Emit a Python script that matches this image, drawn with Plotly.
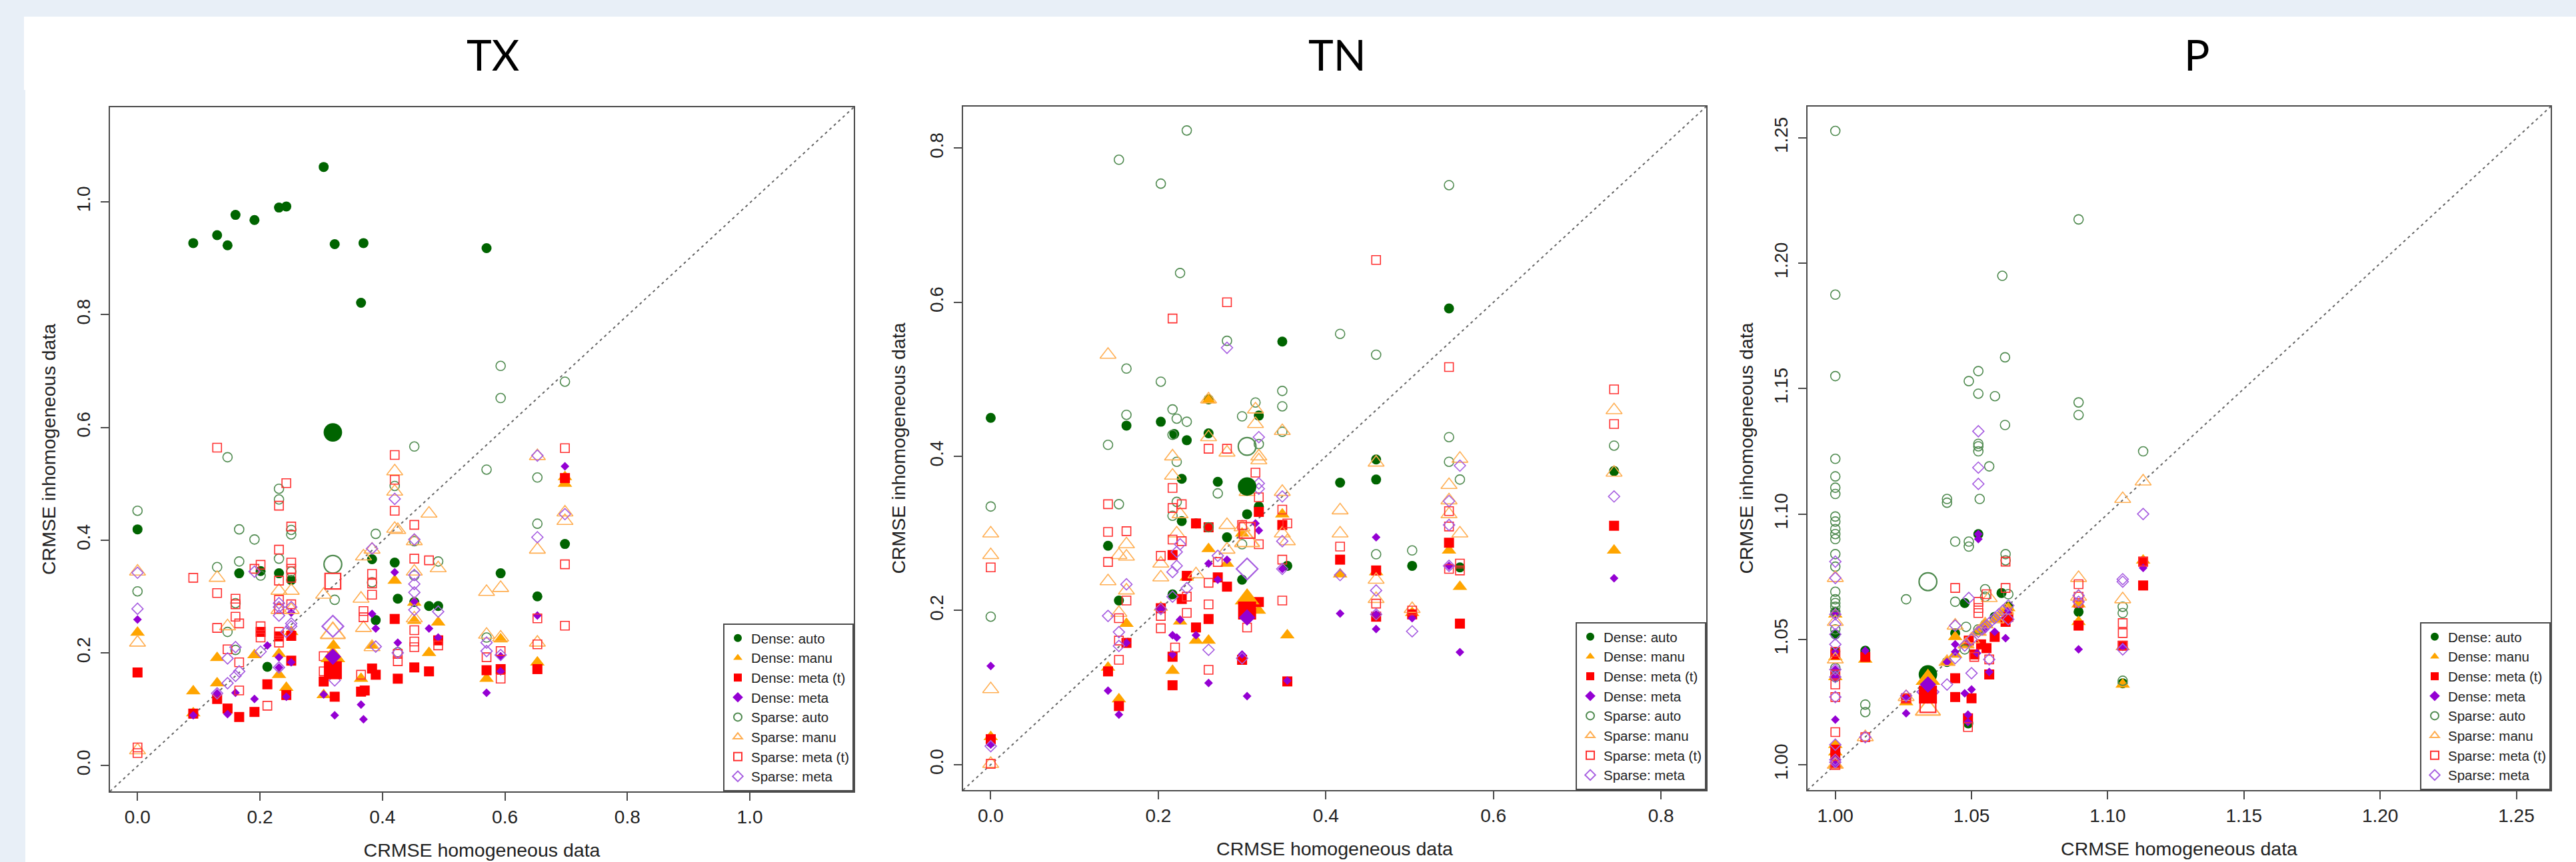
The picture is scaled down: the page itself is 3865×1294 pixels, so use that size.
import plotly.graph_objects as go

# ---------- series names ----------
SERIES = ["Dense: auto", "Dense: manu", "Dense: meta (t)", "Dense: meta",
          "Sparse: auto", "Sparse: manu", "Sparse: meta (t)", "Sparse: meta"]
XTITLE = "CRMSE homogeneous data"
YTITLE = "CRMSE inhomogeneous data"

# ---------- TX ----------
TX_TICKS = [0.0, 0.2, 0.4, 0.6, 0.8, 1.0]
TX_TICKTEXT = ["0.0", "0.2", "0.4", "0.6", "0.8", "1.0"]
TX_DA_X = [.091,.13,.147,.16,.191,.231,.243,.304,.322,.369,.57,.365,0,.166,.201,.231,.251,.383,.42,.425,.452,.476,.491,.389,.212,.593,.653,.698]
TX_DA_Y = [.927,.941,.923,.977,.968,.99,.992,1.062,.925,.927,.918,.821,.419,.341,.345,.341,.329,.366,.36,.296,.29,.283,.283,.258,.175,.341,.3,.393]
TX_DM_X = [0,.091,.13,.13,.091,.191,.231,.231,.243,.251,.32,.304,.365,.383,.42,.452,.476,.491,.57,.593,.653,.698,.698,.452]
TX_DM_Y = [.236,.132,.191,.146,.093,.196,.198,.161,.138,.237,.213,.125,.154,.213,.328,.257,.2,.254,.154,.224,.183,.5,.512,.289]
TX_DT_X = [0,.091,.13,.147,.166,.191,.201,.212,.231,.243,.251,.251,.304,.322,.365,.371,.383,.389,.42,.425,.452,.476,.491,.57,.593,.653,.698]
TX_DT_Y = [.165,.092,.118,.101,.086,.095,.237,.144,.229,.125,.23,.186,.149,.122,.131,.133,.172,.161,.26,.154,.174,.167,.222,.169,.171,.171,.51]
TX_DE_X = [0,.091,.13,.147,.16,.191,.212,.231,.231,.243,.251,.251,.304,.322,.365,.369,.383,.389,.42,.425,.452,.476,.491,.57,.593,.593,.653,.698]
TX_DE_Y = [.259,.089,.128,.091,.129,.118,.213,.192,.174,.122,.271,.183,.126,.089,.108,.082,.269,.243,.343,.218,.291,.243,.227,.129,.194,.167,.266,.531]
TX_SA_X = [0,0,.13,.147,.147,.16,.16,.166,.166,.191,.201,.231,.231,.231,.251,.251,.251,.322,.383,.389,.42,.452,.452,.452,.491,.57,.57,.593,.593,.653,.653,.698,.425]
TX_SA_Y = [.452,.309,.352,.547,.237,.205,.288,.419,.362,.401,.337,.491,.472,.367,.418,.41,.344,.294,.325,.411,.496,.566,.398,.337,.362,.525,.227,.709,.652,.511,.429,.681,.201]
TX_SM_X = [0,0,0,.13,.147,.231,.251,.304,.365,.369,.369,.383,.42,.42,.42,.425,.452,.452,.452,.476,.491,.57,.57,.593,.593,.653,.653,.653,.698,.698,.231,.251,.383]
TX_SM_Y = [.344,.218,.027,.333,.247,.31,.31,.303,.296,.371,.244,.383,.522,.486,.42,.418,.398,.344,.261,.447,.35,.308,.232,.315,.227,.549,.383,.218,.449,.434,.276,.276,.21]
TX_ST_X = [0,0,.091,.13,.13,.13,.147,.16,.16,.16,.166,.166,.166,.191,.201,.201,.201,.212,.231,.231,.231,.231,.231,.231,.231,.243,.251,.251,.251,.251,.251,.304,.304,.365,.383,.383,.383,.369,.369,.42,.42,.42,.425,.425,.452,.452,.452,.452,.452,.476,.491,.57,.593,.593,.653,.653,.698,.698,.698]
TX_ST_Y = [.032,.022,.333,.564,.306,.244,.206,.296,.286,.264,.252,.183,.133,.349,.356,.247,.227,.106,.461,.383,.328,.294,.278,.237,.218,.501,.424,.36,.349,.333,.286,.194,.167,.161,.34,.323,.303,.274,.263,.551,.507,.452,.198,.185,.427,.367,.24,.22,.21,.364,.213,.192,.203,.154,.261,.215,.563,.357,.248]
TX_SE_X = [0,0,.13,.147,.147,.16,.16,.166,.191,.201,.231,.231,.231,.231,.243,.251,.251,.251,.322,.383,.389,.42,.425,.452,.452,.452,.452,.452,.491,.57,.57,.593,.653,.653,.698]
TX_SE_Y = [.342,.278,.128,.19,.146,.21,.159,.167,.344,.202,.288,.281,.266,.174,.237,.281,.252,.247,.151,.385,.211,.473,.2,.401,.338,.322,.307,.276,.273,.218,.203,.196,.55,.405,.446]
TX_MEAN_X = .319
TX_MEAN_Y = [.591, .193, .169, .193, .357, .235, .327, .247]

# ---------- TN ----------
TN_TICKS = [0.0, 0.2, 0.4, 0.6, 0.8]
TN_TICKTEXT = ["0.0", "0.2", "0.4", "0.6", "0.8"]
TN_DA_X = [0,.14,.153,.162,.203,.217,.219,.228,.228,.234,.245,.26,.26,.271,.282,.3,.306,.32,.32,.348,.354,.417,.46,.46,.503,.547,.56,.744,0]
TN_DA_Y = [.45,.284,.213,.44,.445,.221,.429,.371,.316,.421,.313,.474,.43,.367,.295,.24,.325,.453,.335,.549,.258,.366,.396,.37,.258,.592,.256,.381,.029]
TN_DM_X = [0,.14,.153,.162,.203,.217,.226,.234,.245,.26,.26,.282,.3,.32,.348,.354,.417,.46,.503,.547,.56,.744,.26]
TN_DM_Y = [.036,.126,.085,.183,.204,.122,.186,.243,.161,.28,.161,.261,.3,.2,.325,.168,.247,.25,.197,.278,.231,.278,.473]
TN_DT_X = [0,.14,.153,.162,.203,.217,.217,.217,.228,.234,.245,.26,.26,.271,.282,.3,.32,.32,.348,.354,.417,.46,.46,.503,.547,.56,.744,.245]
TN_DT_Y = [.033,.121,.076,.158,.203,.14,.103,.272,.215,.245,.178,.189,.308,.243,.231,.136,.328,.211,.311,.108,.266,.192,.252,.195,.288,.183,.31,.313]
TN_DE_X = [0,0,.14,.153,.162,.203,.217,.217,.222,.226,.245,.26,.26,.271,.282,.3,.306,.316,.32,.348,.354,.417,.46,.46,.46,.503,.547,.56,.744]
TN_DE_Y = [.128,.026,.096,.065,.158,.202,.143,.168,.165,.188,.168,.261,.106,.24,.266,.143,.089,.313,.304,.254,.109,.196,.295,.195,.176,.19,.258,.146,.242]
TN_SA_X = [0,0,.14,.153,.153,.162,.162,.203,.203,.217,.217,.217,.222,.222,.222,.226,.234,.234,.26,.271,.282,.3,.3,.316,.32,.348,.348,.348,.417,.46,.46,.503,.547,.547,.547,.56,.744]
TN_SA_Y = [.335,.192,.415,.338,.785,.514,.454,.754,.497,.461,.428,.323,.449,.341,.393,.638,.823,.445,.308,.352,.55,.452,.286,.47,.416,.485,.465,.432,.559,.532,.273,.278,.752,.425,.393,.37,.414]
TN_SM_X = [0,0,0,0,.14,.14,.153,.153,.162,.162,.162,.203,.203,.217,.217,.222,.226,.245,.26,.26,.282,.282,.282,.3,.306,.316,.316,.32,.32,.348,.348,.348,.354,.417,.417,.46,.46,.46,.503,.547,.547,.547,.56,.56,.744,.744]
TN_SM_Y = [.3,.272,.098,.001,.532,.238,.197,.272,.286,.27,.226,.261,.243,.4,.375,.3,.325,.247,.425,.474,.405,.311,.279,.308,.354,.461,.442,.4,.395,.433,.354,.3,.29,.33,.3,.392,.24,.215,.202,.363,.343,.325,.397,.3,.46,.379]
TN_ST_X = [0,0,.14,.14,.14,.153,.153,.153,.162,.162,.203,.203,.203,.217,.217,.217,.217,.22,.228,.228,.234,.234,.26,.26,.26,.26,.271,.282,.282,.3,.316,.32,.32,.348,.348,.348,.354,.417,.46,.46,.547,.547,.547,.547,.56,.56,.744,.744,.306,.503]
TN_ST_Y = [.256,.001,.338,.302,.263,.19,.161,.136,.303,.213,.271,.193,.177,.579,.359,.333,.292,.152,.338,.29,.218,.197,.41,.236,.208,.123,.263,.6,.41,.311,.379,.347,.286,.331,.266,.213,.313,.283,.655,.209,.516,.329,.309,.254,.261,.252,.487,.442,.178,.2]
TN_SE_X = [0,.14,.153,.153,.162,.203,.217,.217,.222,.222,.226,.234,.26,.271,.282,.3,.32,.32,.32,.348,.348,.348,.417,.46,.46,.503,.547,.547,.547,.56,.744]
TN_SE_Y = [.024,.193,.172,.154,.234,.202,.218,.25,.276,.258,.286,.229,.149,.271,.541,.138,.425,.365,.358,.348,.29,.254,.246,.226,.195,.173,.342,.311,.258,.388,.348]
TN_MEAN_X = .306
TN_MEAN_Y = [.361, .215, .2, .191, .413, .29, .304, .254]

# ---------- P ----------
P_TICKS = [1.00, 1.05, 1.10, 1.15, 1.20, 1.25]
P_TICKTEXT = ["1.00", "1.05", "1.10", "1.15", "1.20", "1.25"]
P_DA_X = [1,1,1,1,1,1,1.011,1.026,1.0475,1.044,1.061,1.0525,1.0488,1.0585,1.0893,1.1055,1.113,1.055,1.041,1.0635]
P_DA_Y = [1.061,1.052,1.045,1.035,1.005,1.001,1.0455,1.0265,1.0645,1.0525,1.0685,1.092,1.0165,1.059,1.061,1.0325,1.081,1.056,1.041,1.063]
P_DM_X = [1,1,1,1,1,1,1.011,1.026,1.041,1.044,1.044,1.048,1.0525,1.055,1.059,1.061,1.0635,1.0893,1.0893,1.1055,1.113,1.1055]
P_DM_Y = [1.008,1.005,1.0,1.043,1.035,1.06,1.042,1.025,1.041,1.044,1.051,1.048,1.053,1.056,1.058,1.0605,1.0625,1.057,1.064,1.032,1.0815,1.047]
P_DT_X = [1,1,1,1,1,1.011,1.026,1.044,1.044,1.05,1.0487,1.051,1.0535,1.0555,1.0565,1.0585,1.0625,1.0635,1.0893,1.1055,1.113,1.113,1.049]
P_DT_Y = [1.0,1.003,1.006,1.036,1.044,1.043,1.0265,1.0345,1.027,1.0265,1.0185,1.044,1.048,1.0465,1.036,1.051,1.057,1.059,1.0555,1.0475,1.0715,1.081,1.0495]
P_DE_X = [1,1,1,1,1,1,1,1.011,1.026,1.026,1.041,1.044,1.044,1.0475,1.0487,1.0487,1.05,1.052,1.0525,1.0525,1.0565,1.0585,1.0625,1.0893,1.1055,1.113,1.0635,1.055]
P_DE_Y = [1.0,1.002,1.018,1.035,1.038,1.045,1.06,1.0455,1.0205,1.0265,1.041,1.048,1.045,1.0285,1.02,1.017,1.03,1.0445,1.09,1.092,1.037,1.053,1.0505,1.046,1.047,1.0785,1.0615,1.054]
P_SA_X = [1,1,1,1,1,1,1,1,1,1,1,1,1,1,1,1,1,1,1,1,1,1,1.011,1.011,1.026,1.041,1.041,1.044,1.044,1.049,1.049,1.049,1.0525,1.0525,1.0525,1.0525,1.0525,1.053,1.0565,1.055,1.055,1.0586,1.0613,1.0623,1.0623,1.0625,1.0625,1.0635,1.0893,1.0893,1.0893,1.1055,1.1055,1.1055,1.113,1.048,1.0525,1.0475]
P_SA_Y = [1.2528,1.1875,1.155,1.122,1.115,1.1105,1.108,1.099,1.097,1.094,1.092,1.09,1.084,1.079,1.069,1.066,1.0645,1.063,1.061,1.054,1.0386,1.035,1.024,1.021,1.066,1.106,1.1045,1.089,1.065,1.153,1.089,1.087,1.157,1.148,1.128,1.127,1.125,1.106,1.119,1.07,1.067,1.147,1.195,1.1625,1.1355,1.084,1.0815,1.068,1.2175,1.1445,1.1395,1.063,1.0605,1.0335,1.125,1.055,1.054,1.046]
P_SM_X = [1,1,1,1,1.011,1.026,1.0565,1.0893,1.0893,1.1055,1.1055,1.113,1.041,1.044,1.048,1.0525,1.055,1.059,1.0625,1.05]
P_SM_Y = [1.0745,1.057,1.042,1.0,1.011,1.027,1.0665,1.0745,1.067,1.066,1.106,1.113,1.041,1.0555,1.048,1.053,1.056,1.058,1.0615,1.05]
P_ST_X = [1,1,1,1,1,1,1.011,1.026,1.044,1.0487,1.0525,1.0525,1.0525,1.051,1.0565,1.0555,1.0625,1.0625,1.0893,1.0893,1.0893,1.1055,1.1055,1.1055,1.113]
P_ST_Y = [1.0,1.013,1.027,1.032,1.036,1.045,1.011,1.0265,1.0705,1.015,1.065,1.0625,1.0605,1.043,1.042,1.068,1.081,1.0705,1.072,1.067,1.0645,1.0565,1.0525,1.0475,1.081]
P_SE_X = [1,1,1,1,1,1,1,1,1,1,1,1,1.011,1.026,1.041,1.044,1.044,1.049,1.05,1.0525,1.0525,1.0525,1.0565,1.0893,1.0893,1.1055,1.1055,1.1055,1.113,1.0475,1.05,1.0525,1.054,1.0555,1.057,1.0585,1.06,1.0615,1.0635,1.0635]
P_SE_Y = [1.081,1.0745,1.06,1.056,1.052,1.048,1.038,1.035,1.027,1.008,1.002,1.001,1.011,1.0275,1.032,1.0555,1.0425,1.0665,1.0365,1.133,1.1185,1.112,1.042,1.0675,1.065,1.074,1.073,1.046,1.1,1.0475,1.05,1.053,1.054,1.0555,1.057,1.0585,1.06,1.0615,1.0635,1.058]
P_MEAN_X = 1.034
P_MEAN_Y = [1.036, 1.034, 1.028, 1.032, 1.073, 1.022, 1.024, 1.029]

# ---------- layout constants ----------
W, H = 3865, 1294
BG = "#E8EFF7"
FRAME = "#4A4A4A"
INK = "#222222"
STYLES = [
    dict(symbol="circle", color="#006400", size=15),
    dict(symbol="triangle-up", color="#FFA500", size=19),
    dict(symbol="square", color="#FF0000", size=15),
    dict(symbol="diamond", color="#9400D3", size=10),
    dict(symbol="circle-open", color="#4F8A4F", size=14),
    dict(symbol="triangle-up-open", color="#FFAE52", size=21),
    dict(symbol="square-open", color="#FF3030", size=13),
    dict(symbol="diamond-open", color="#A65CE0", size=13),
]
BIG = [1.85, 1.7, 1.8, 1.9, 1.9, 1.55, 1.8, 1.9]
PANELS = [
    dict(name="TX", box=(165, 1281, 161, 1188), xr=(-0.045, 1.1697), yr=(-0.046, 1.168), ticks=TX_TICKS, text=TX_TICKTEXT,
         title_x=739, ystand=18, mx=TX_MEAN_X, my=TX_MEAN_Y,
         data=[(TX_DA_X, TX_DA_Y), (TX_DM_X, TX_DM_Y), (TX_DT_X, TX_DT_Y), (TX_DE_X, TX_DE_Y),
               (TX_SA_X, TX_SA_Y), (TX_SM_X, TX_SM_Y), (TX_ST_X, TX_ST_Y), (TX_SE_X, TX_SE_Y)]),
    dict(name="TN", box=(1445, 2560, 160, 1186), xr=(-0.033, 0.854), yr=(-0.033, 0.854), ticks=TN_TICKS, text=TN_TICKTEXT,
         title_x=2007, ystand=23, mx=TN_MEAN_X, my=TN_MEAN_Y,
         data=[(TN_DA_X, TN_DA_Y), (TN_DM_X, TN_DM_Y), (TN_DT_X, TN_DT_Y), (TN_DE_X, TN_DE_Y),
               (TN_SA_X, TN_SA_Y), (TN_SM_X, TN_SM_Y), (TN_ST_X, TN_ST_Y), (TN_SE_X, TN_SE_Y)]),
    dict(name="P", box=(2712, 3827, 160, 1186), xr=(0.9898, 1.2626), yr=(0.9899, 1.2625), ticks=P_TICKS, text=P_TICKTEXT,
         title_x=3296, ystand=18, mx=P_MEAN_X, my=P_MEAN_Y,
         data=[(P_DA_X, P_DA_Y), (P_DM_X, P_DM_Y), (P_DT_X, P_DT_Y), (P_DE_X, P_DE_Y),
               (P_SA_X, P_SA_Y), (P_SM_X, P_SM_Y), (P_ST_X, P_ST_Y), (P_SE_X, P_SE_Y)]),
]

fig = go.Figure()
layout = dict(
    width=W, height=H, margin=dict(l=0, r=0, t=0, b=0), autosize=False,
    paper_bgcolor=BG, plot_bgcolor="white", font=dict(family="Liberation Sans", color=INK),
    shapes=[
        dict(type="rect", xref="paper", yref="paper", x0=36 / W, x1=1, y0=1 - 135 / H, y1=1 - 25 / H,
             fillcolor="white", line_width=0, layer="below"),
        dict(type="rect", xref="paper", yref="paper", x0=38 / W, x1=1, y0=0, y1=1 - 135 / H,
             fillcolor="white", line_width=0, layer="below"),
    ],
    annotations=[],
)

for i, p in enumerate(PANELS):
    n = "" if i == 0 else str(i + 1)
    xa, ya = "x" + n, "y" + n
    l, r, t, b = p["box"]
    legend_id = "legend" + n
    # diagonal reference line, corner to corner of the axes
    fig.add_trace(go.Scatter(x=p["xr"], y=p["yr"], mode="lines", xaxis=xa, yaxis=ya, showlegend=False, hoverinfo="skip",
                             line=dict(color="#666666", width=2, dash="4px,5px")))
    # ordinary points
    for s, (x, y), st in zip(SERIES, p["data"], STYLES):
        fig.add_trace(go.Scatter(x=x, y=y, mode="markers", name=s, xaxis=xa, yaxis=ya, legend=legend_id, showlegend=True,
                                 marker=dict(symbol=st["symbol"], color=st["color"], size=st["size"],
                                             line=dict(color=st["color"], width=1.6 if "open" in st["symbol"] else 0))))
    # overall means: bigger markers, sparse first so the filled ones stay visible
    for j in [4, 5, 6, 7, 0, 1, 2, 3]:
        st = STYLES[j]
        fig.add_trace(go.Scatter(x=[p["mx"]], y=[p["my"][j]], mode="markers", xaxis=xa, yaxis=ya, showlegend=False,
                                 marker=dict(symbol=st["symbol"], color=st["color"], size=st["size"] * BIG[j],
                                             line=dict(color=st["color"], width=2.2 if "open" in st["symbol"] else 0))))
    common = dict(showgrid=False, zeroline=False, showline=True, mirror=True, linecolor=FRAME, linewidth=2,
                  ticks="outside", ticklen=12, tickwidth=2, tickcolor=FRAME, tickfont=dict(size=28, color=INK),
                  tickvals=p["ticks"], ticktext=p["text"])
    layout["xaxis" + n] = dict(common, domain=[l / W, r / W], range=list(p["xr"]), anchor=ya,
                               title=dict(text=XTITLE, font=dict(size=28.5, color=INK), standoff=25))
    layout["yaxis" + n] = dict(common, domain=[1 - b / H, 1 - t / H], range=list(p["yr"]), anchor=xa, tickangle=-90,
                               ticklabelstandoff=5,
                               title=dict(text=YTITLE, font=dict(size=28.5, color=INK), standoff=p["ystand"]))
    layout[legend_id] = dict(x=r / W, y=1 - b / H, xanchor="right", yanchor="bottom", xref="paper", yref="paper",
                             bgcolor="white", bordercolor=FRAME, borderwidth=2, itemsizing="constant",
                             font=dict(size=20.5, color=INK), entrywidth=170, entrywidthmode="pixels",
                             tracegroupgap=0, itemclick=False, itemdoubleclick=False)
    layout["annotations"].append(dict(text=p["name"], x=p["title_x"] / W, y=1 - 81 / H, xref="paper", yref="paper",
                                      showarrow=False, xanchor="center", yanchor="middle",
                                      font=dict(family="Lato", size=64, color="black")))

fig.update_layout(**layout)
fig.write_html("out.html", config={"displayModeBar": False}, post_script="document.body.style.margin='0';")
